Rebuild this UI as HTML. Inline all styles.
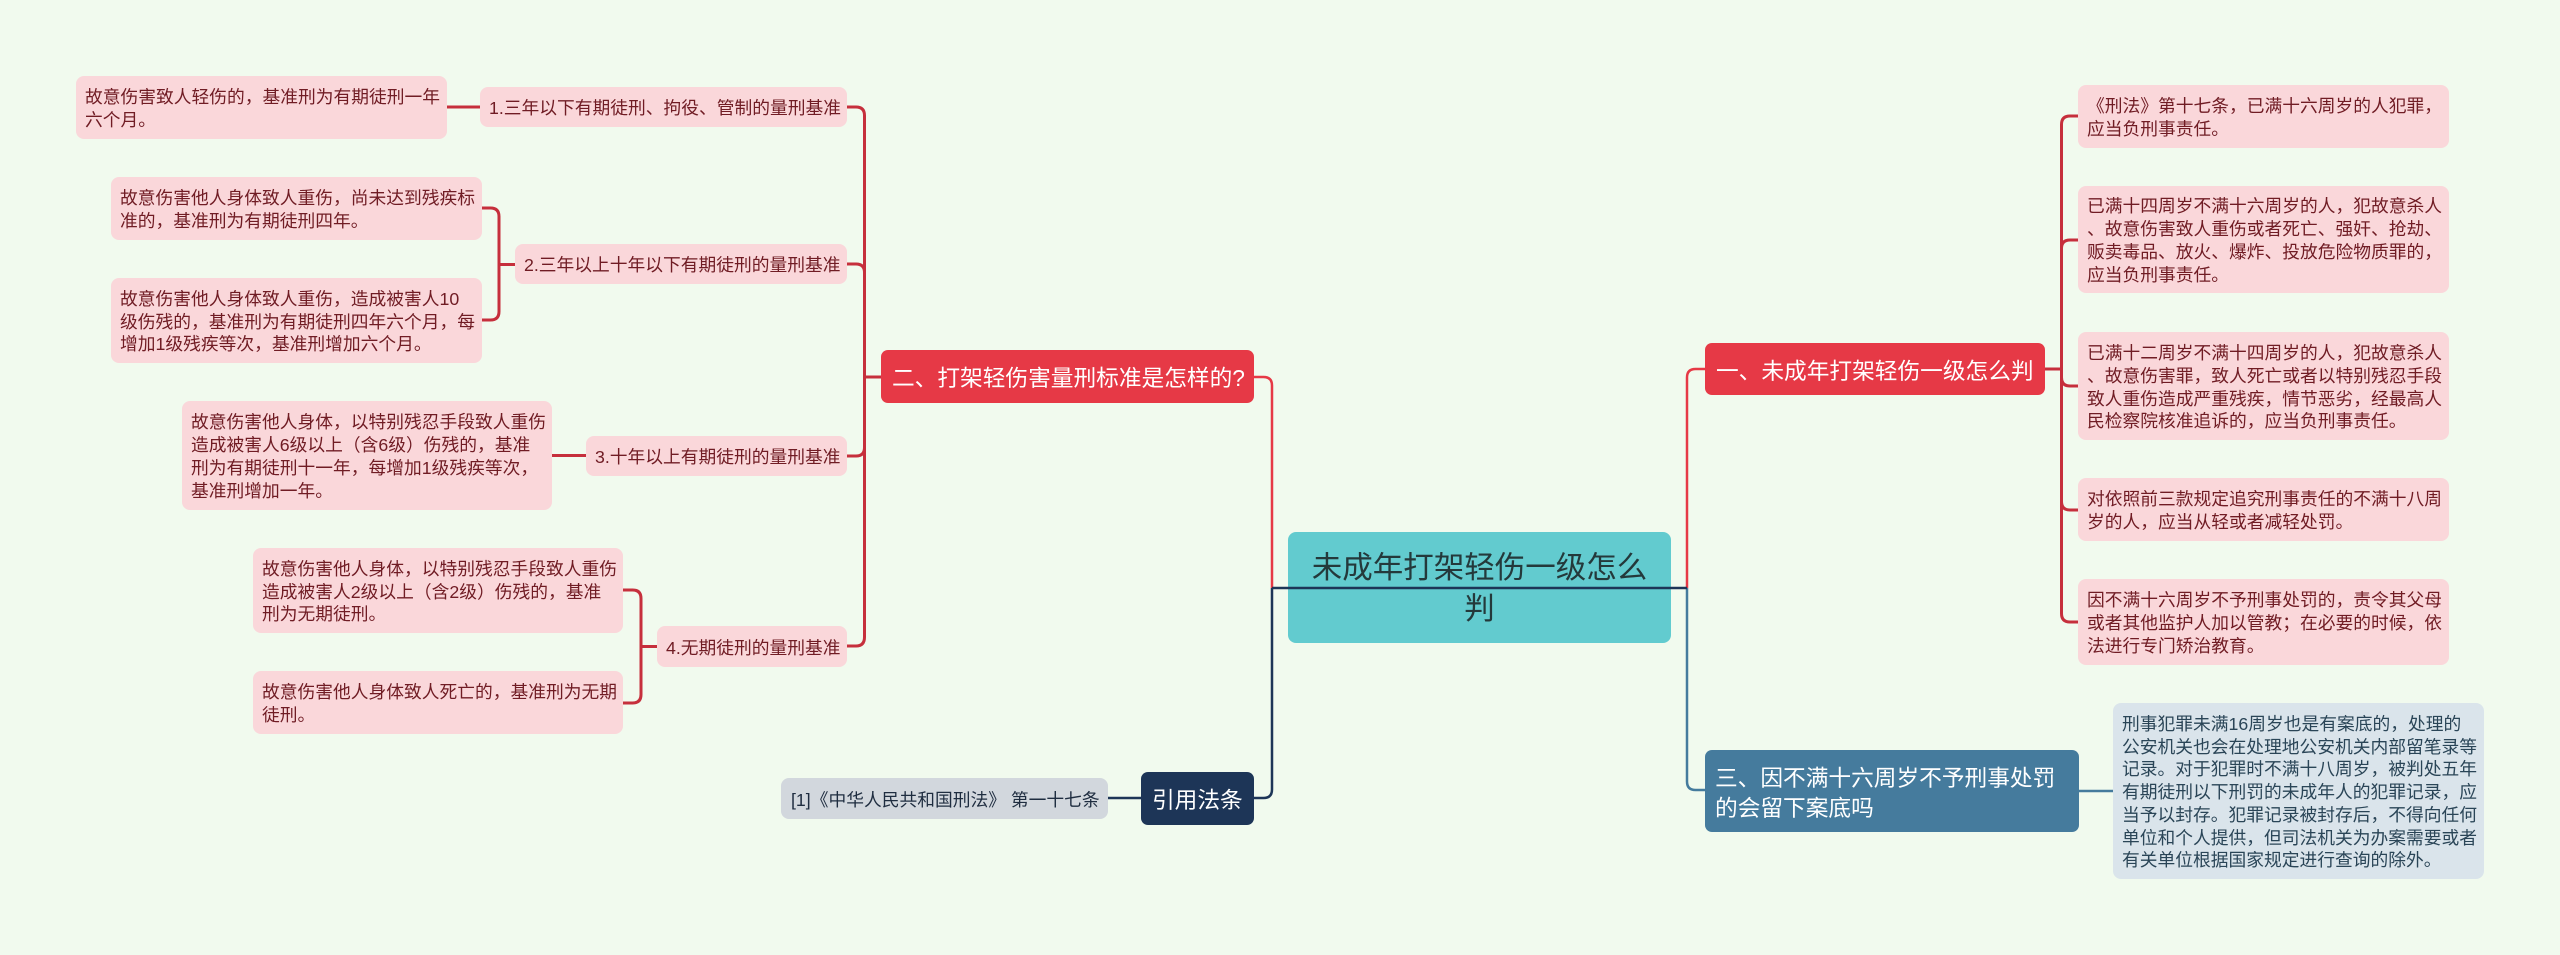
<!DOCTYPE html>
<html lang="zh">
<head>
<meta charset="utf-8">
<title>未成年打架轻伤一级怎么判</title>
<style>
html,body{margin:0;padding:0;background:#F1FAEE;}
#c{position:relative;width:2560px;height:955px;overflow:hidden;background:#F1FAEE;font-family:"Liberation Sans","Noto Sans CJK SC",sans-serif;}
.n{position:absolute;box-sizing:border-box;display:flex;align-items:center;white-space:nowrap;}
.n span{position:relative;top:1.5px;}
.l{background:#FAD7DA;color:#701C24;font-size:17.75px;line-height:22.8px;border-radius:8px;padding-left:9px;}
.b{background:#DAE4EB;color:#2A4557;font-size:17.75px;line-height:22.8px;border-radius:8px;padding-left:9px;}
.g{background:#D2D7DD;color:#1F2D40;font-size:17.75px;line-height:22.8px;border-radius:8px;padding-left:10px;}
.r{background:#E63946;color:#fff;font-size:22.7px;line-height:30px;border-radius:7px;padding-left:11px;}
.s{background:#457B9D;color:#fff;font-size:22.7px;line-height:30px;border-radius:7px;padding-left:10px;}
.v{background:#1D3557;color:#fff;font-size:22.7px;line-height:30px;border-radius:7px;padding-left:11px;}
.m{background:#62CBCF;color:#24393B;font-size:30.5px;line-height:41px;border-radius:8px;justify-content:center;text-align:center;}
svg{position:absolute;left:0;top:0;}
</style>
</head>
<body>
<div id="c">
<div class="n m" style="left:1288px;top:532px;width:383px;height:111px"><span>未成年打架轻伤一级怎么<br>判</span></div>

<div class="n r" style="left:881px;top:350px;width:373px;height:53px"><span>二、打架轻伤害量刑标准是怎样的?</span></div>
<div class="n r" style="left:1705px;top:343px;width:340px;height:52px"><span>一、未成年打架轻伤一级怎么判</span></div>
<div class="n s" style="left:1705px;top:750px;width:374px;height:82px"><span>三、因不满十六周岁不予刑事处罚<br>的会留下案底吗</span></div>
<div class="n v" style="left:1141px;top:772px;width:113px;height:53px"><span>引用法条</span></div>

<div class="n g" style="left:781px;top:778px;width:327px;height:41px"><span>[1]《中华人民共和国刑法》 第一十七条</span></div>

<div class="n l" style="left:480px;top:87px;width:367px;height:40px"><span>1.三年以下有期徒刑、拘役、管制的量刑基准</span></div>
<div class="n l" style="left:515px;top:244px;width:332px;height:40px"><span>2.三年以上十年以下有期徒刑的量刑基准</span></div>
<div class="n l" style="left:586px;top:436px;width:261px;height:40px"><span>3.十年以上有期徒刑的量刑基准</span></div>
<div class="n l" style="left:657px;top:626px;width:190px;height:41px"><span>4.无期徒刑的量刑基准</span></div>

<div class="n l" style="left:76px;top:76px;width:371px;height:63px"><span>故意伤害致人轻伤的，基准刑为有期徒刑一年<br>六个月。</span></div>
<div class="n l" style="left:111px;top:177px;width:371px;height:63px"><span>故意伤害他人身体致人重伤，尚未达到残疾标<br>准的，基准刑为有期徒刑四年。</span></div>
<div class="n l" style="left:111px;top:278px;width:371px;height:85px"><span>故意伤害他人身体致人重伤，造成被害人10<br>级伤残的，基准刑为有期徒刑四年六个月，每<br>增加1级残疾等次，基准刑增加六个月。</span></div>
<div class="n l" style="left:182px;top:401px;width:370px;height:109px"><span>故意伤害他人身体，以特别残忍手段致人重伤<br>造成被害人6级以上（含6级）伤残的，基准<br>刑为有期徒刑十一年，每增加1级残疾等次，<br>基准刑增加一年。</span></div>
<div class="n l" style="left:253px;top:548px;width:370px;height:85px"><span>故意伤害他人身体，以特别残忍手段致人重伤<br>造成被害人2级以上（含2级）伤残的，基准<br>刑为无期徒刑。</span></div>
<div class="n l" style="left:253px;top:671px;width:370px;height:63px"><span>故意伤害他人身体致人死亡的，基准刑为无期<br>徒刑。</span></div>

<div class="n l" style="left:2078px;top:85px;width:371px;height:63px"><span>《刑法》第十七条，已满十六周岁的人犯罪，<br>应当负刑事责任。</span></div>
<div class="n l" style="left:2078px;top:186px;width:371px;height:107px"><span>已满十四周岁不满十六周岁的人，犯故意杀人<br>、故意伤害致人重伤或者死亡、强奸、抢劫、<br>贩卖毒品、放火、爆炸、投放危险物质罪的，<br>应当负刑事责任。</span></div>
<div class="n l" style="left:2078px;top:332px;width:371px;height:108px"><span>已满十二周岁不满十四周岁的人，犯故意杀人<br>、故意伤害罪，致人死亡或者以特别残忍手段<br>致人重伤造成严重残疾，情节恶劣，经最高人<br>民检察院核准追诉的，应当负刑事责任。</span></div>
<div class="n l" style="left:2078px;top:478px;width:371px;height:63px"><span>对依照前三款规定追究刑事责任的不满十八周<br>岁的人，应当从轻或者减轻处罚。</span></div>
<div class="n l" style="left:2078px;top:579px;width:371px;height:86px"><span>因不满十六周岁不予刑事处罚的，责令其父母<br>或者其他监护人加以管教；在必要的时候，依<br>法进行专门矫治教育。</span></div>

<div class="n b" style="left:2113px;top:703px;width:371px;height:176px"><span>刑事犯罪未满16周岁也是有案底的，处理的<br>公安机关也会在处理地公安机关内部留笔录等<br>记录。对于犯罪时不满十八周岁，被判处五年<br>有期徒刑以下刑罚的未成年人的犯罪记录，应<br>当予以封存。犯罪记录被封存后，不得向任何<br>单位和个人提供，但司法机关为办案需要或者<br>有关单位根据国家规定进行查询的除外。</span></div>

<svg width="2560" height="955" viewBox="0 0 2560 955" fill="none" stroke-linecap="butt">
<g stroke="#C62F3C" stroke-width="3">
<path d="M847 107H856Q864.500 107 864.500 115.500V637Q864.500 646 856 646H847"/>
<path d="M847 264H856Q864.500 264 864.500 272.500"/>
<path d="M847 456H856Q864.500 456 864.500 447.500"/>
<path d="M864.500 377H881"/>
<path d="M447 107H480"/>
<path d="M552 455.500H586"/>
<path d="M482 208H490.500Q499 208 499 216.500V311.500Q499 320 490.500 320H482"/>
<path d="M499 264.500H515"/>
<path d="M623 590H632.500Q641 590 641 598.500V694.500Q641 703 632.500 703H623"/>
<path d="M641 646.500H657"/>
<path d="M2078 116H2070Q2061.500 116 2061.500 124.500V613.500Q2061.500 622 2070 622H2078"/>
<path d="M2078 240H2070Q2061.500 240 2061.500 248.500"/>
<path d="M2078 386H2070Q2061.500 386 2061.500 377.500"/>
<path d="M2078 510H2070Q2061.500 510 2061.500 501.500"/>
<path d="M2045 369H2061.500"/>
</g>
<g stroke-width="2.500">
<path stroke="#457B9D" d="M1687 588V781.500Q1687 790 1695.500 790H1705"/>
<path stroke="#457B9D" d="M2079 791H2113"/>
<path stroke="#E63946" d="M1687 588V377.500Q1687 369 1695.500 369H1705"/>
<path stroke="#E63946" d="M1272 588V385.500Q1272 377 1263.500 377H1254"/>
<path stroke="#1D3557" d="M1272 588V789.500Q1272 798 1263.500 798H1254"/>
<path stroke="#1D3557" d="M1108 798H1141"/>
<path stroke="#1D3557" d="M1272 588H1687"/>
</g>
</svg>
</div>
</body>
</html>
